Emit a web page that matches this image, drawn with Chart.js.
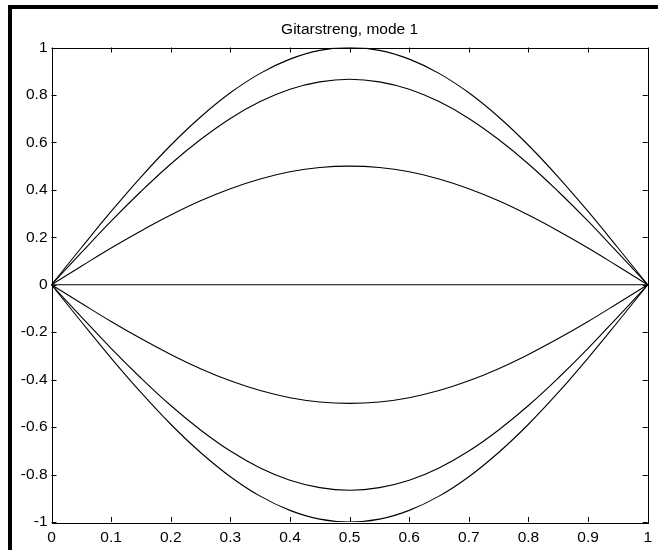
<!DOCTYPE html>
<html>
<head>
<meta charset="utf-8">
<script src="https://cdn.jsdelivr.net/npm/chart.js@4"></script>
<style>
  body { margin: 0; background: #fff; }
  #wrap { width: 658px; height: 550px; }
</style>
</head>
<body>
<div id="wrap"><canvas id="chart" width="658" height="550"></canvas></div>
<script>
// --- Data ---
const xValues = [0, 0.05, 0.1, 0.15, 0.2, 0.25, 0.3, 0.35, 0.4, 0.45, 0.5, 0.55, 0.6, 0.65, 0.7, 0.75, 0.8, 0.85, 0.9, 0.95, 1];

const curvePos100 = [0, 0.156, 0.309, 0.454, 0.588, 0.707, 0.809, 0.891, 0.951, 0.988, 1, 0.988, 0.951, 0.891, 0.809, 0.707, 0.588, 0.454, 0.309, 0.156, 0];
const curvePos87 = [0, 0.135, 0.268, 0.393, 0.509, 0.612, 0.701, 0.772, 0.824, 0.855, 0.866, 0.855, 0.824, 0.772, 0.701, 0.612, 0.509, 0.393, 0.268, 0.135, 0];
const curvePos50 = [0, 0.078, 0.155, 0.227, 0.294, 0.354, 0.405, 0.446, 0.476, 0.494, 0.5, 0.494, 0.476, 0.446, 0.405, 0.354, 0.294, 0.227, 0.155, 0.078, 0];
const curveZero = [0, 0, 0, 0, 0, 0, 0, 0, 0, 0, 0, 0, 0, 0, 0, 0, 0, 0, 0, 0, 0];
const curveNeg50 = [0, -0.078, -0.155, -0.227, -0.294, -0.354, -0.405, -0.446, -0.476, -0.494, -0.5, -0.494, -0.476, -0.446, -0.405, -0.354, -0.294, -0.227, -0.155, -0.078, 0];
const curveNeg87 = [0, -0.135, -0.268, -0.393, -0.509, -0.612, -0.701, -0.772, -0.824, -0.855, -0.866, -0.855, -0.824, -0.772, -0.701, -0.612, -0.509, -0.393, -0.268, -0.135, 0];
const curveNeg100 = [0, -0.156, -0.309, -0.454, -0.588, -0.707, -0.809, -0.891, -0.951, -0.988, -1, -0.988, -0.951, -0.891, -0.809, -0.707, -0.588, -0.454, -0.309, -0.156, 0];

const xTicks = [0, 0.1, 0.2, 0.3, 0.4, 0.5, 0.6, 0.7, 0.8, 0.9, 1];
const xTickLabels = ['0', '0.1', '0.2', '0.3', '0.4', '0.5', '0.6', '0.7', '0.8', '0.9', '1'];
const yTicks = [-1, -0.8, -0.6, -0.4, -0.2, 0, 0.2, 0.4, 0.6, 0.8, 1];
const yTickLabels = ['-1', '-0.8', '-0.6', '-0.4', '-0.2', '0', '0.2', '0.4', '0.6', '0.8', '1'];

const titleText = 'Gitarstreng, mode 1';

const allCurves = [curvePos100, curvePos87, curvePos50, curveZero, curveNeg50, curveNeg87, curveNeg100];

const fontFamily = '"Liberation Sans", Arial, Helvetica, sans-serif';
const tickFont = { family: fontFamily, size: 15.5 };

// --- Helpers ---
function findLabel(ticks, labels, value) {
    const i = ticks.findIndex(t => Math.abs(t - value) < 1e-6);
    return i >= 0 ? labels[i] : '';
}

// MATLAB-style box: frame around plot area, inward ticks on all four sides, title over the axes
const axesBoxPlugin = {
    id: 'axesBox',
    beforeDraw(chart) {
        const ctx = chart.ctx;
        ctx.save();
        ctx.fillStyle = '#000';
        ctx.fillRect(8, 5, 4, 545);
        ctx.fillRect(8, 5, 650, 4);
        ctx.restore();
    },
    afterDatasetsDraw(chart) {
        const { ctx, chartArea, scales } = chart;
        const { left, right, top, bottom } = chartArea;
        const tickLen = 5;
        ctx.save();
        ctx.strokeStyle = '#000';
        ctx.lineWidth = 1;
        ctx.beginPath();
        xTicks.forEach(v => {
            const px = Math.round(scales.x.getPixelForValue(v)) + 0.5;
            ctx.moveTo(px, bottom); ctx.lineTo(px, bottom - tickLen);
            ctx.moveTo(px, top); ctx.lineTo(px, top + tickLen);
        });
        yTicks.forEach(v => {
            const py = Math.round(scales.y.getPixelForValue(v)) + 0.5;
            ctx.moveTo(left, py); ctx.lineTo(left + tickLen, py);
            ctx.moveTo(right, py); ctx.lineTo(right - tickLen, py);
        });
        ctx.stroke();
        ctx.strokeRect(Math.round(left) + 0.5, Math.round(top) + 0.5, Math.round(right - left), Math.round(bottom - top));

        ctx.fillStyle = '#000';
        ctx.font = `15.5px ${fontFamily}`;
        ctx.textAlign = 'center';
        ctx.textBaseline = 'middle';
        ctx.fillText(titleText, (left + right) / 2, 30);
        ctx.restore();
    }
};

new Chart(document.getElementById('chart'), {
    type: 'line',
    data: {
        datasets: allCurves.map(values => ({
            data: values.map((y, i) => ({ x: xValues[i], y })),
            borderColor: '#000',
            borderWidth: 1.1,
            pointRadius: 0,
            tension: 0.4,
            fill: false
        }))
    },
    options: {
        responsive: false,
        animation: false,
        layout: { padding: { left: 0, right: 7.5, top: 47.5, bottom: 0 } },
        plugins: {
            legend: { display: false },
            tooltip: { enabled: false },
            title: { display: false }
        },
        scales: {
            x: {
                type: 'linear',
                min: 0,
                max: 1,
                afterBuildTicks: (scale) => { scale.ticks = xTicks.map(v => ({ value: v })); },
                afterFit: (scale) => { scale.height = 28; },
                grid: { display: false, drawTicks: false },
                border: { display: false },
                ticks: {
                    color: '#000',
                    font: tickFont,
                    padding: 6,
                    maxRotation: 0,
                    autoSkip: false,
                    callback: (value) => findLabel(xTicks, xTickLabels, value)
                }
            },
            y: {
                type: 'linear',
                min: -1,
                max: 1,
                afterBuildTicks: (scale) => { scale.ticks = yTicks.map(v => ({ value: v })); },
                afterFit: (scale) => { scale.width = 51.5; },
                grid: { display: false, drawTicks: false },
                border: { display: false },
                ticks: {
                    color: '#000',
                    font: tickFont,
                    padding: 4,
                    autoSkip: false,
                    callback: (value) => findLabel(yTicks, yTickLabels, value)
                }
            }
        }
    },
    plugins: [axesBoxPlugin]
});
</script>
</body>
</html>
